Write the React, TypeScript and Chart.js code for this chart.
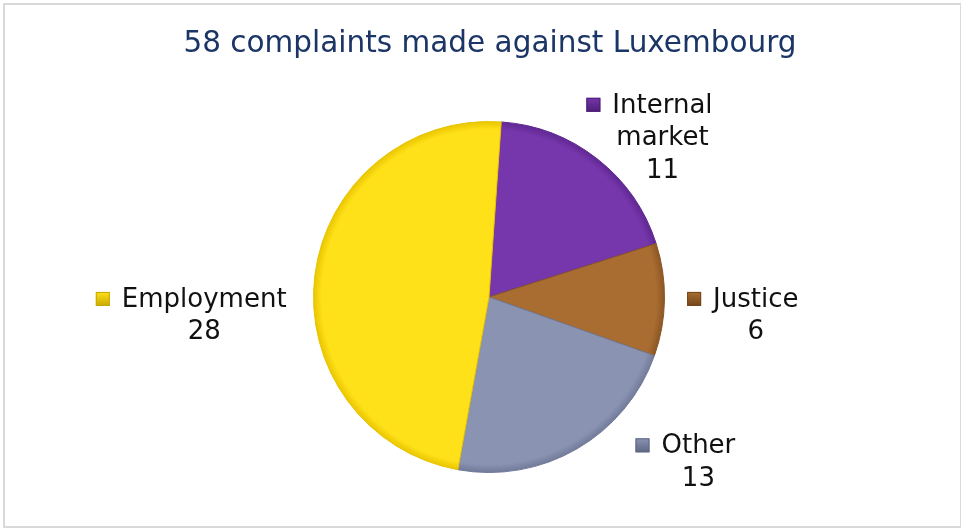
import React, { useEffect, useRef } from "react";
import { Chart, registerables } from "chart.js";

Chart.register(...registerables);

const titleText = "58 complaints made against Luxembourg";
const categories = ["Internal market", "Justice", "Other", "Employment"];
const values = [11, 6, 13, 28];
const colors = ["#7636AC", "#A96D31", "#8A94B2", "#FFE119"];
const edgeColors = ["#5E2790", "#8A5524", "#707A98", "#E8C400"];
const keyEdge = ["#4E1F78", "#74461B", "#5D6683", "#C9A800"];
// label placement relative to each slice: angular shift (deg) and distance (x radius)
const labelShift = [7, 3.2, -19.9, -10.6];
const labelDist = [1.29, 1.45, 1.46, 1.7];

const FONT = "'DejaVu Sans', Verdana, sans-serif";

function shade(ctx: CanvasRenderingContext2D, cx: number, cy: number, r: number, base: string, edge: string) {
  const g = ctx.createRadialGradient(cx, cy, 0, cx, cy, r);
  g.addColorStop(0, base);
  g.addColorStop(0.95, base);
  g.addColorStop(1, edge);
  return g;
}

const labelPlugin = {
  id: "sliceLabels",
  afterDraw(chart: any) {
    const ctx: CanvasRenderingContext2D = chart.ctx;
    const meta = chart.getDatasetMeta(0);
    // title
    ctx.save();
    ctx.font = `29.5px ${FONT}`;
    ctx.fillStyle = "#1B3566";
    ctx.textAlign = "center";
    ctx.textBaseline = "alphabetic";
    ctx.fillText(titleText, 490, 52);
    ctx.restore();

    const fontSize = 26;
    const lineH = 32.5;
    const key = 14;
    const gap = 12;
    meta.data.forEach((arc: any, i: number) => {
      const p = arc.getProps(["x", "y", "startAngle", "endAngle", "outerRadius"], true);
      const mid = (p.startAngle + p.endAngle) / 2 + (labelShift[i] * Math.PI) / 180;
      const bx = p.x + Math.cos(mid) * p.outerRadius * labelDist[i];
      const by = p.y + Math.sin(mid) * p.outerRadius * labelDist[i];
      ctx.save();
      ctx.font = `${fontSize}px ${FONT}`;
      const words = categories[i].split(" ");
      const lines: string[] = [];
      let cur = "";
      words.forEach((w) => {
        const t = cur ? cur + " " + w : w;
        if (cur && ctx.measureText(t).width > 150) {
          lines.push(cur);
          cur = w;
        } else cur = t;
      });
      lines.push(cur);
      lines.push(String(values[i]));
      const maxW = Math.max(...lines.map((l) => ctx.measureText(l).width));
      const w = key + gap + maxW;
      const h = lines.length * lineH;
      const left = bx - w / 2;
      const top = by - h / 2;
      const tcx = left + key + gap + maxW / 2;
      const ky = top + lineH / 2 - key / 2;
      const kg = ctx.createLinearGradient(left, ky, left, ky + key);
      kg.addColorStop(0, colors[i]);
      kg.addColorStop(1, keyEdge[i]);
      ctx.fillStyle = kg;
      ctx.fillRect(left, ky, key, key);
      ctx.strokeStyle = keyEdge[i];
      ctx.lineWidth = 1;
      ctx.strokeRect(left + 0.5, ky + 0.5, key - 1, key - 1);
      ctx.fillStyle = "#111111";
      ctx.textAlign = "center";
      ctx.textBaseline = "middle";
      lines.forEach((l, j) => {
        ctx.fillText(l, tcx, top + lineH * (j + 0.5) + 1);
      });
      ctx.restore();
    });
  },
};

export default function App() {
  const ref = useRef<HTMLCanvasElement | null>(null);
  useEffect(() => {
    const canvas = ref.current;
    if (!canvas) return;
    const chart = new Chart(canvas, {
      type: "pie",
      data: {
        labels: categories,
        datasets: [
          {
            data: values,
            backgroundColor: (c: any) => {
              const ch = c.chart;
              const a = ch.chartArea;
              if (!a) return colors[c.dataIndex];
              const cx = (a.left + a.right) / 2;
              const cy = (a.top + a.bottom) / 2;
              const r = Math.min(a.right - a.left, a.bottom - a.top) / 2;
              return shade(ch.ctx, cx, cy, r, colors[c.dataIndex], edgeColors[c.dataIndex]);
            },
            borderColor: edgeColors,
            borderWidth: 1,
          },
        ],
      },
      options: {
        responsive: false,
        animation: false,
        rotation: 4,
        layout: { padding: { left: 313, right: 296, top: 121, bottom: 55 } },
        plugins: {
          legend: { display: false },
          title: { display: false },
          tooltip: { enabled: false },
        },
      },
      plugins: [labelPlugin],
    });
    return () => chart.destroy();
  }, []);
  return (
    <div style={{ position: "fixed", left: 0, top: 0, width: 961, height: 528, background: "#ffffff" }}>
      <div
        style={{
          position: "absolute",
          left: 3,
          top: 3,
          width: 955,
          height: 521,
          border: "2px solid #d9d9d9",
        }}
      />
      <canvas ref={ref} width={961} height={528} style={{ position: "absolute", left: 0, top: 0 }} />
    </div>
  );
}
